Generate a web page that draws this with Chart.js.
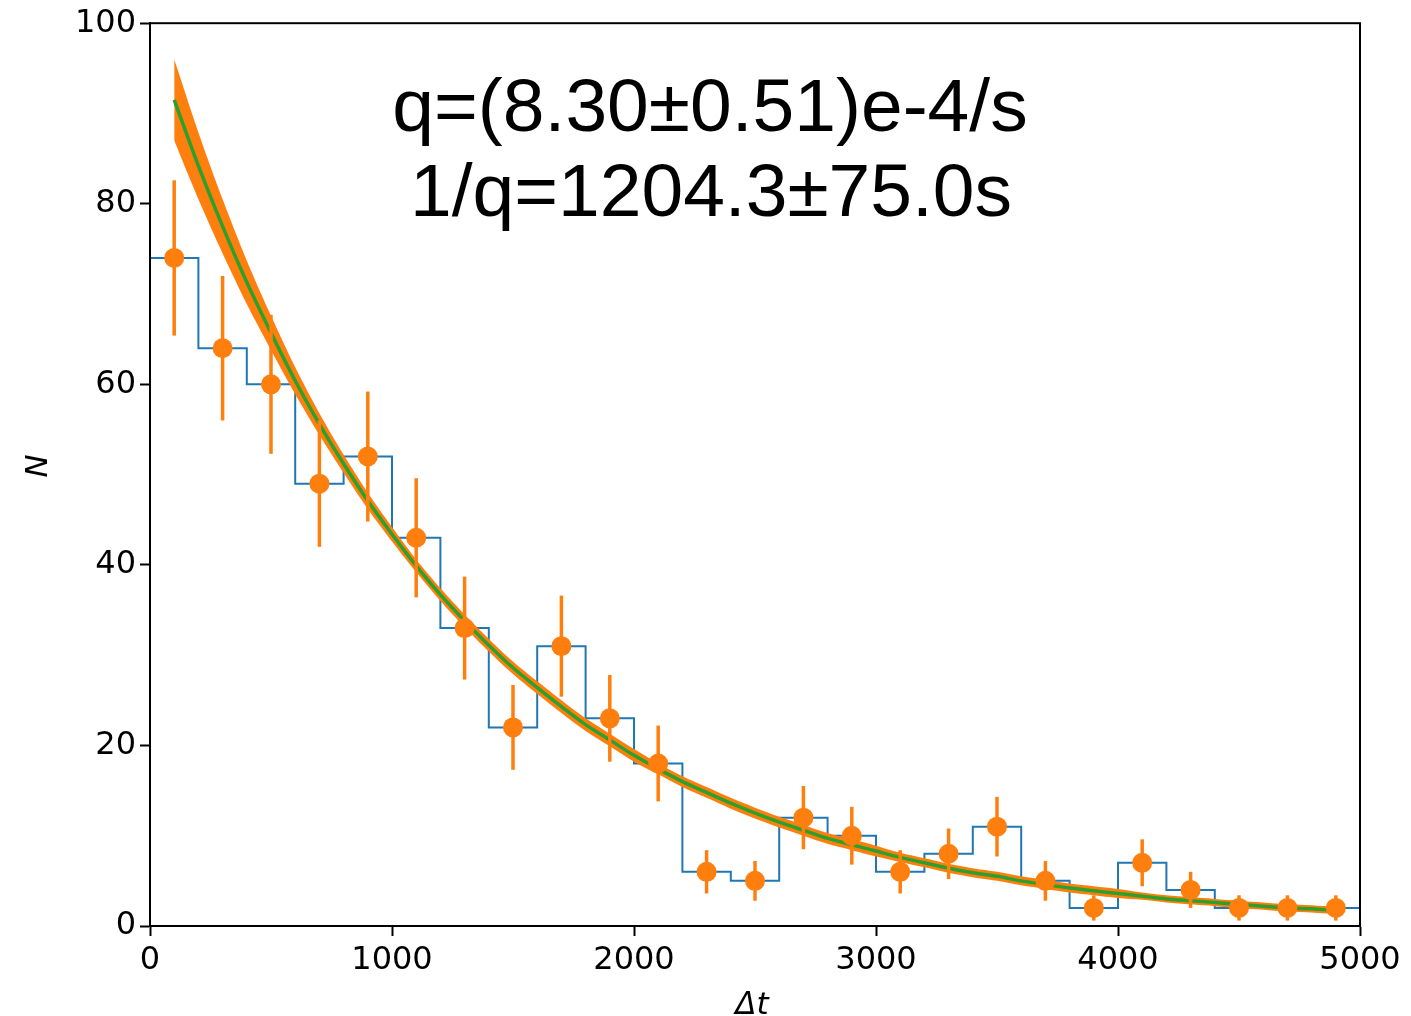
<!DOCTYPE html>
<html>
<head>
<meta charset="utf-8">
<script src="https://cdn.jsdelivr.net/npm/chart.js@4/dist/chart.umd.min.js"></script>
<style>
  html, body { margin: 0; padding: 0; background: #fff; }
  #wrap { width: 1411px; height: 1016px; position: relative; }
</style>
</head>
<body>
<div id="wrap"><canvas id="decayChart"></canvas></div>
<script>
// 直方图数据（每格 200）
const binWidth = 200;
const binCenters = [100, 300, 500, 700, 900, 1100, 1300, 1500, 1700, 1900, 2100, 2300, 2500,
  2700, 2900, 3100, 3300, 3500, 3700, 3900, 4100, 4300, 4500, 4700, 4900];
const counts = [74, 64, 60, 49, 52, 43, 33, 22, 31, 23, 18, 6, 5,
  12, 10, 6, 8, 11, 5, 2, 7, 4, 2, 2, 2];
const countErrors = [8.6, 8.0, 7.7, 7.0, 7.2, 6.6, 5.7, 4.7, 5.6, 4.8, 4.2, 2.4, 2.2,
  3.5, 3.2, 2.4, 2.8, 3.3, 2.2, 1.4, 2.6, 2.0, 1.4, 1.4, 1.4];

// 拟合曲线及误差带
const fitT = [100, 200, 300, 400, 500, 600, 700, 800, 900, 1000,
  1100, 1200, 1300, 1400, 1500, 1600, 1700, 1800, 1900, 2000,
  2100, 2200, 2300, 2400, 2500, 2600, 2700, 2800, 2900, 3000,
  3100, 3200, 3300, 3400, 3500, 3600, 3700, 3800, 3900, 4000,
  4100, 4200, 4300, 4400, 4500, 4600, 4700, 4800, 4900];
const fitN = [91.5, 84.2, 77.5, 71.3, 65.7, 60.4, 55.6, 51.2, 47.1, 43.4,
  39.9, 36.7, 33.8, 31.1, 28.6, 26.4, 24.3, 22.3, 20.6, 18.9,
  17.4, 16.0, 14.8, 13.6, 12.5, 11.5, 10.6, 9.7, 9.0, 8.3,
  7.6, 7.0, 6.4, 5.9, 5.5, 5.0, 4.6, 4.2, 3.9, 3.6,
  3.3, 3.0, 2.8, 2.6, 2.4, 2.2, 2.0, 1.9, 1.7];
const bandHigh = [96.0, 87.9, 80.5, 73.7, 67.6, 61.9, 56.8, 52.2, 48.0, 44.2,
  40.6, 37.4, 34.5, 31.8, 29.3, 27.1, 25.0, 23.0, 21.3, 19.6,
  18.0, 16.6, 15.4, 14.2, 13.1, 12.1, 11.2, 10.3, 9.6, 8.9,
  8.1, 7.5, 6.9, 6.4, 6.0, 5.5, 5.1, 4.7, 4.4, 4.1,
  3.7, 3.4, 3.2, 3.0, 2.8, 2.6, 2.4, 2.3, 2.1];
const bandLow = [87.0, 80.5, 74.5, 68.9, 63.8, 58.9, 54.4, 50.2, 46.2, 42.6,
  39.2, 36.0, 33.1, 30.4, 27.9, 25.7, 23.6, 21.6, 19.9, 18.2,
  16.8, 15.4, 14.2, 13.0, 11.9, 10.9, 10.0, 9.1, 8.4, 7.7,
  7.1, 6.5, 5.9, 5.4, 5.0, 4.5, 4.1, 3.7, 3.4, 3.1,
  2.9, 2.6, 2.4, 2.2, 2.0, 1.8, 1.6, 1.5, 1.3];

const annotationLines = ['q=(8.30±0.51)e-4/s', '1/q=1204.3±75.0s'];

const ORANGE = '#ff7f0e';
const BLUE = '#1f77b4';
const GREEN = '#2ca02c';
const tickFont = { family: 'DejaVu Sans', size: 32 };
const FIT_INDEX = 4;

// 直方图台阶点：各格左边缘 + 末尾右边缘
const histPoints = counts.map((c, i) => ({ x: binCenters[i] - binWidth / 2, y: c }));
histPoints.push({ x: binCenters[binCenters.length - 1] + binWidth / 2, y: counts[counts.length - 1] });

const toXY = (xs, ys) => xs.map((x, i) => ({ x: x, y: ys[i] }));

// 误差棒、边框和文字
const decorPlugin = {
  id: 'decor',
  afterDatasetDraw(chart, args) {
    if (args.index !== FIT_INDEX) return; // 画在拟合线之后、数据点之前
    const { ctx, scales: { x, y } } = chart;
    ctx.save();
    ctx.strokeStyle = ORANGE;
    ctx.lineWidth = 3.5;
    binCenters.forEach((t, i) => {
      const px = x.getPixelForValue(t);
      ctx.beginPath();
      ctx.moveTo(px, y.getPixelForValue(counts[i] - countErrors[i]));
      ctx.lineTo(px, y.getPixelForValue(counts[i] + countErrors[i]));
      ctx.stroke();
    });
    ctx.restore();
  },
  afterDraw(chart) {
    const { ctx, chartArea: a } = chart;
    ctx.save();
    ctx.strokeStyle = '#000';
    ctx.lineWidth = 2;
    ctx.strokeRect(a.left, a.top, a.right - a.left, a.bottom - a.top);

    ctx.fillStyle = '#000';
    ctx.textAlign = 'center';
    ctx.textBaseline = 'alphabetic';
    ctx.font = '75px "Liberation Sans", Arial, sans-serif';
    ctx.fillText(annotationLines[0], 710, 131);
    ctx.fillText(annotationLines[1], 711, 216);

    ctx.font = 'italic 31px "DejaVu Sans"';
    ctx.fillText('Δt', 752, 1014);
    ctx.translate(47, 466);
    ctx.rotate(-Math.PI / 2);
    ctx.fillText('N', 0, 0);
    ctx.restore();
  }
};

const ctx = document.getElementById('decayChart').getContext('2d');
new Chart(ctx, {
  type: 'scatter',
  data: {
    datasets: [
      {
        label: 'data',
        data: toXY(binCenters, counts),
        backgroundColor: ORANGE,
        borderColor: ORANGE,
        pointRadius: 10,
        pointBorderWidth: 0,
        showLine: false,
        order: 0
      },
      {
        label: 'hist',
        data: histPoints,
        showLine: true,
        stepped: 'before',
        borderColor: BLUE,
        borderWidth: 2,
        pointRadius: 0,
        order: 4
      },
      {
        label: 'band high',
        data: toXY(fitT, bandHigh),
        showLine: true,
        borderWidth: 0,
        pointRadius: 0,
        backgroundColor: ORANGE,
        fill: '+1',
        tension: 0.3,
        order: 3
      },
      {
        label: 'band low',
        data: toXY(fitT, bandLow),
        showLine: true,
        borderWidth: 0,
        pointRadius: 0,
        tension: 0.3,
        order: 3
      },
      {
        label: 'fit',
        data: toXY(fitT, fitN),
        showLine: true,
        borderColor: GREEN,
        borderWidth: 3.5,
        pointRadius: 0,
        tension: 0.3,
        order: 1
      }
    ]
  },
  plugins: [decorPlugin],
  options: {
    responsive: true,
    maintainAspectRatio: false,
    animation: false,
    layout: { padding: { left: 0, top: 20, right: 51, bottom: 0 } },
    plugins: {
      legend: { display: false },
      tooltip: { enabled: false }
    },
    scales: {
      x: {
        type: 'linear',
        min: 0,
        max: 5000,
        afterFit(scale) { scale.height = 90; },
        ticks: { stepSize: 1000, color: '#000', font: tickFont, padding: 5, maxRotation: 0,
          callback: v => String(v) },
        grid: { drawOnChartArea: false, tickLength: 10, tickColor: '#000', tickWidth: 2 },
        border: { color: '#000', width: 2 }
      },
      y: {
        type: 'linear',
        min: 0,
        max: 100,
        afterFit(scale) { scale.width = 150; },
        ticks: { stepSize: 20, color: '#000', font: tickFont, padding: 4,
          callback: v => String(v) },
        grid: { drawOnChartArea: false, tickLength: 10, tickColor: '#000', tickWidth: 2 },
        border: { color: '#000', width: 2 }
      }
    }
  }
});
</script>
</body>
</html>
